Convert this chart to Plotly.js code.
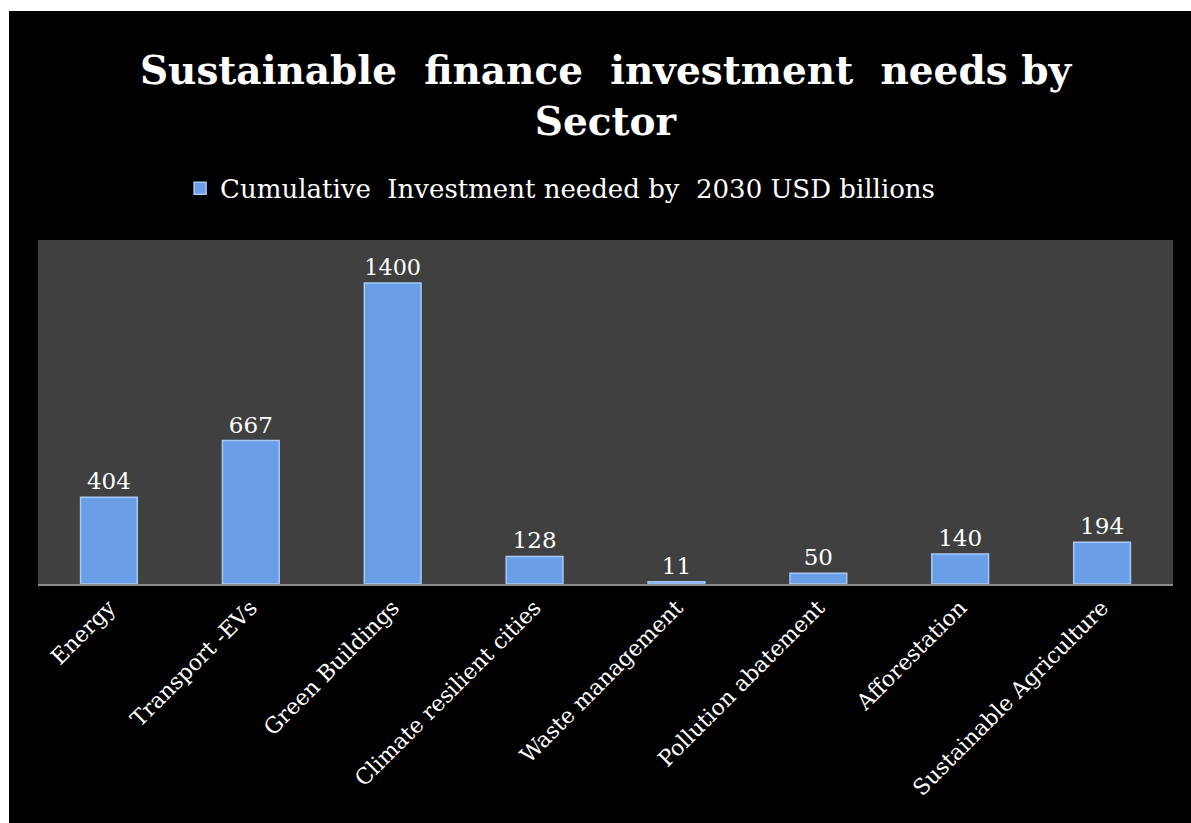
<!DOCTYPE html>
<html>
<head>
<meta charset="utf-8">
<script src="https://cdn.plot.ly/plotly-3.0.1.min.js"></script>
<style>
html,body{margin:0;padding:0;background:#ffffff;}
#chart{position:absolute;left:9px;top:11px;width:1182px;height:812px;}
</style>
</head>
<body>
<div id="chart"></div>
<script>
const categories = ["Energy","Transport -EVs","Green Buildings","Climate resilient cities","Waste management","Pollution abatement","Afforestation","Sustainable Agriculture"];
const investment = [404, 667, 1400, 128, 11, 50, 140, 194];
const seriesName = "Cumulative  Investment needed by  2030 USD billions";
const serif = "DejaVu Serif, Liberation Serif, serif";

const trace = {
  type: "bar",
  x: categories,
  y: investment,
  name: seriesName,
  showlegend: true,
  marker: {color: "#6a9fe8", line: {color: "#a8c8f4", width: 1.5}},
  text: investment.map(String),
  textposition: "outside",
  cliponaxis: false,
  textfont: {family: serif, size: 23, color: "#ffffff"},
  hoverinfo: "x+y"
};

const layout = {
  width: 1182, height: 812,
  paper_bgcolor: "#000000",
  plot_bgcolor: "#404040",
  margin: {l: 29, r: 18, t: 229, b: 239},
  bargap: 0.6,
  title: {
    text: "<b>Sustainable  finance  investment  needs by<br>Sector</b>",
    font: {family: serif, size: 39, color: "#ffffff"},
    x: 0.5, xanchor: "center", xref: "paper",
    y: 0.91, yanchor: "top", yref: "container"
  },
  showlegend: true,
  legend: {
    orientation: "h",
    x: 0.46, xanchor: "center",
    y: 1.15, yanchor: "middle",
    font: {family: serif, size: 26, color: "#ffffff"},
    bgcolor: "rgba(0,0,0,0)",
    itemwidth: 30
  },
  xaxis: {
    type: "category",
    tickangle: -45,
    tickfont: {family: serif, size: 22, color: "#ffffff"},
    showline: true, linecolor: "#8c8c8c", linewidth: 2,
    showgrid: false, ticks: "", zeroline: false
  },
  yaxis: {
    range: [0, 1600],
    visible: false,
    showgrid: false, zeroline: false
  }
};

Plotly.newPlot("chart", [trace], layout, {displayModeBar: false, staticPlot: true});
</script>
</body>
</html>
